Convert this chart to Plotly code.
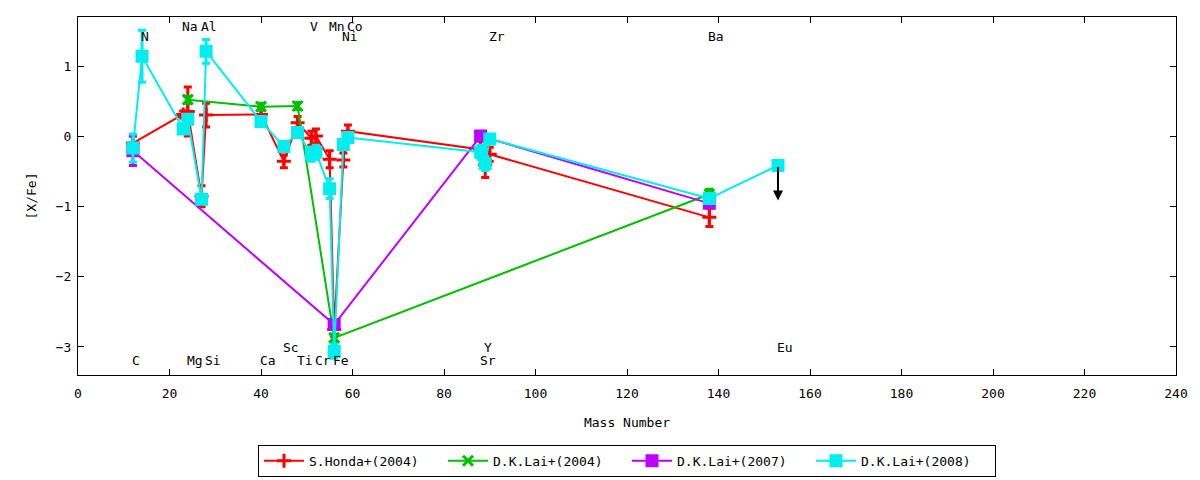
import plotly.graph_objects as go

# S.Honda+(2004)
honda04_mass = [12, 23, 24, 27, 28, 40, 45, 48, 51, 52, 55, 56, 58, 59, 88, 89, 90, 138]
honda04_val = [-0.09, 0.32, 0.36, -0.85, 0.31, 0.32, -0.35, 0.20, -0.02, 0.01,
               -0.32, -2.75, -0.33, 0.08, -0.18, -0.40, -0.25, -1.15]
honda04_err = [0.10, 0.05, 0.35, 0.15, 0.17, 0.10, 0.09, 0.09, 0.10, 0.10,
               0.12, 0.10, 0.10, 0.09, 0.12, 0.18, 0.10, 0.13]

# D.K.Lai+(2004)
lai04_mass = [24, 40, 48, 56, 138]
lai04_val = [0.53, 0.43, 0.44, -2.87, -0.82]
lai04_err = [0.05, 0.05, 0.05, 0.05, 0.07]

# D.K.Lai+(2007)
lai07_mass = [12, 56, 88, 138]
lai07_val = [-0.20, -2.68, 0.01, -0.95]
lai07_err = [0.21, 0.05, 0.05, 0.05]

# D.K.Lai+(2008)
lai08_mass = [12, 14, 23, 24, 27, 28, 40, 45, 48, 51, 52, 55, 56, 58, 59, 88, 89, 90, 138, 153]
lai08_val = [-0.16, 1.15, 0.11, 0.25, -0.89, 1.22, 0.22, -0.14, 0.06, -0.25,
             -0.22, -0.74, -3.06, -0.11, -0.01, -0.22, -0.38, -0.03, -0.88, -0.41]
lai08_err = [0.20, 0.37, 0.05, 0.05, 0.05, 0.17, 0.05, 0.05, 0.05, 0.10,
             0.10, 0.14, 0.10, 0.05, 0.05, 0.10, 0.10, 0.05, 0.05, 0.0]
# upper limits (Eu)
lai08_upper_mass = [153]
lai08_upper_val = [-0.41]

# element labels
elem_name = ["C", "N", "Na", "Mg", "Al", "Si", "Ca", "Sc", "Ti", "V",
             "Cr", "Mn", "Fe", "Co", "Ni", "Sr", "Y", "Zr", "Ba", "Eu"]
elem_mass = [12, 14, 23, 24, 27, 28, 40, 45, 48, 51,
             52, 55, 56, 59, 58, 88, 89, 90, 138, 153]

# label rows: 0 = top, 1 = top lower, 2 = bottom upper, 3 = bottom
row_of = {"C": 3, "N": 1, "Na": 0, "Mg": 3, "Al": 0, "Si": 3, "Ca": 3, "Sc": 2,
          "Ti": 3, "V": 0, "Cr": 3, "Mn": 0, "Fe": 3, "Co": 0, "Ni": 1, "Sr": 3,
          "Y": 2, "Zr": 1, "Ba": 1, "Eu": 2}
row_y = [1.57, 1.43, -3.01, -3.20]

FONT = "DejaVu Sans Mono"


def series(name, x, y, err, color, symbol):
    return go.Scatter(
        x=x, y=y, name=name, mode="lines+markers",
        line=dict(color=color, width=2),
        marker=dict(color=color, symbol=symbol, size=10,
                    line=dict(color=color, width=3)),
        error_y=dict(type="data", array=err, color=color, thickness=3, width=4),
    )


fig = go.Figure()
fig.add_trace(series("S.Honda+(2004)", honda04_mass, honda04_val, honda04_err, "#ff0000", "cross-thin"))
fig.add_trace(series("D.K.Lai+(2004)", lai04_mass, lai04_val, lai04_err, "#00c000", "x-thin"))
fig.add_trace(series("D.K.Lai+(2007)", lai07_mass, lai07_val, lai07_err, "#c000ff", "square"))
fig.add_trace(series("D.K.Lai+(2008)", lai08_mass, lai08_val, lai08_err, "#00eeee", "square"))

# upper limit arrows
for m, v in zip(lai08_upper_mass, lai08_upper_val):
    fig.add_annotation(x=m, y=v - 0.5, ax=m, ay=v, xref="x", yref="y",
                       axref="x", ayref="y", text="", showarrow=True,
                       arrowhead=2, arrowsize=1, arrowwidth=2, arrowcolor="black")

for name, m in zip(elem_name, elem_mass):
    fig.add_annotation(x=m, y=row_y[row_of[name]], text=name, showarrow=False,
                       xanchor="left", yanchor="middle", xshift=-3,
                       font=dict(family=FONT, size=13, color="black"))

axis = dict(showline=True, linecolor="black", linewidth=1, mirror="ticks",
            ticks="inside", ticklen=6, tickcolor="black", showgrid=False,
            zeroline=False, automargin=False,
            tickfont=dict(family=FONT, size=13, color="black"))

fig.update_layout(
    width=1200, height=480,
    margin=dict(l=70, r=32, t=9, b=113),
    paper_bgcolor="white", plot_bgcolor="white",
    font=dict(family=FONT, size=13, color="black"),
    xaxis=dict(axis, range=[0, 240], dtick=20, ticklabelstandoff=6,
               title=dict(text="Mass Number", standoff=18,
                          font=dict(family=FONT, size=13))),
    yaxis=dict(axis, range=[-3.4, 1.71], dtick=1, ticklabelstandoff=3,
               title=dict(text="[X/Fe]", standoff=16,
                          font=dict(family=FONT, size=13))),
    legend=dict(orientation="h", x=0.5, xanchor="center",
                yref="container", y=0.09, yanchor="top",
                bordercolor="black", borderwidth=1, itemwidth=40,
                entrywidth=129, entrywidthmode="pixels",
                font=dict(family=FONT, size=13)),
)

fig.write_html("out.html")
